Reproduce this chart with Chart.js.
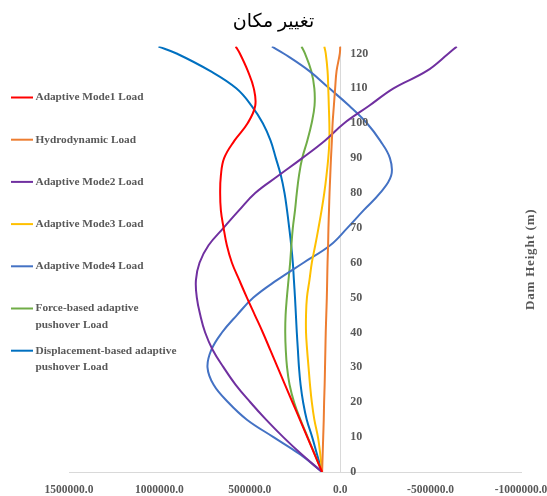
<!DOCTYPE html>
<html>
<head>
<meta charset="utf-8">
<script src="https://cdn.jsdelivr.net/npm/chart.js@4/dist/chart.umd.min.js"></script>
<style>
  html, body { margin: 0; padding: 0; background: #ffffff; }
  #wrap { width: 547px; height: 496px; }
</style>
</head>
<body>
<div id="wrap"><canvas id="c" width="547" height="496"></canvas></div>
<script>
// Dam height (m) at which each load profile is sampled
const heights = [0, 5, 10, 15, 20, 25, 30, 35, 40, 45, 50, 55, 60, 65, 70, 75, 80, 85, 90, 95, 100, 105, 110, 115, 120, 122];

// Load values (same order as heights)
const mode1Load = [100000, 141000, 182000, 223000, 264000, 305000, 346000, 387000, 428000, 472000, 516000, 558000, 599000, 627000, 645000, 660000, 664000, 660000, 642000, 585000, 512000, 470000, 478000, 511000, 555000, 578000];
const hydrodynamicLoad = [100000, 97000, 94000, 91000, 89000, 86000, 84000, 82000, 80000, 77000, 74000, 72000, 70000, 67000, 65000, 62000, 59000, 55000, 51000, 46000, 42000, 35000, 28000, 20000, 2000, 0];
const mode2Load = [100000, 212000, 315000, 410000, 497000, 578000, 645000, 705000, 747000, 774000, 793000, 798000, 778000, 728000, 645000, 560000, 470000, 341000, 210000, 85000, -22000, -160000, -295000, -479000, -599000, -645000];
const mode3Load = [100000, 110000, 123000, 143000, 157000, 167000, 175000, 183000, 189000, 189000, 184000, 170000, 157000, 138000, 120000, 103000, 88000, 76000, 66000, 60000, 60000, 63000, 66000, 70000, 80000, 88000];
const mode4Load = [100000, 221000, 369000, 516000, 620000, 700000, 734000, 713000, 654000, 571000, 480000, 350000, 203000, 55000, -40000, -129000, -221000, -282000, -275000, -221000, -148000, -50000, 60000, 172000, 313000, 378000];
const forceBasedLoad = [100000, 140000, 180000, 220000, 255000, 280000, 294000, 301000, 304000, 302000, 295000, 286000, 277000, 270000, 262000, 250000, 240000, 228000, 210000, 182000, 158000, 142000, 143000, 160000, 195000, 214000];
const displacementBasedLoad = [100000, 128000, 155000, 185000, 205000, 219000, 228000, 234000, 240000, 245000, 250000, 256000, 262000, 271000, 282000, 294000, 308000, 328000, 356000, 385000, 428000, 490000, 575000, 720000, 905000, 1005000];

// Axis tick values
const xTickValues = [1500000, 1000000, 500000, 0, -500000, -1000000];
const yTickValues = [0, 10, 20, 30, 40, 50, 60, 70, 80, 90, 100, 110, 120];

const chartTitle = 'تغيير مكان';
const yAxisTitle = 'Dam Height (m)';

const seriesDefs = [
  { label: 'Adaptive Mode1 Load', values: mode1Load, color: '#FF0000' },
  { label: 'Hydrodynamic Load', values: hydrodynamicLoad, color: '#ED7D31' },
  { label: 'Adaptive Mode2 Load', values: mode2Load, color: '#7030A0' },
  { label: 'Adaptive Mode3 Load', values: mode3Load, color: '#FFC000' },
  { label: 'Adaptive Mode4 Load', values: mode4Load, color: '#4472C4' },
  { label: 'Force-based adaptive\npushover Load', values: forceBasedLoad, color: '#70AD47' },
  { label: 'Displacement-based adaptive\npushover Load', values: displacementBasedLoad, color: '#0070C0' }
];

const FONT = "'Liberation Serif', 'Times New Roman', serif";
const GREY_TEXT = '#595959';
const AXIS_LINE = '#D9D9D9';

const datasets = seriesDefs.map(s => ({
  label: s.label,
  data: heights.map((h, i) => ({ x: s.values[i], y: h })),
  borderColor: s.color,
  backgroundColor: s.color,
  borderWidth: 2,
  pointRadius: 0,
  tension: 0.4,
  fill: false
}));

// Y tick labels beside the vertical axis, the rotated axis title and the legend
const sidePlugin = {
  id: 'sideText',
  afterDraw(chart) {
    const ctx = chart.ctx;
    const xs = chart.scales.x, ys = chart.scales.y;
    const axisX = xs.getPixelForValue(0);
    ctx.save();
    ctx.fillStyle = GREY_TEXT;
    ctx.font = "bold 12px " + FONT;
    ctx.textAlign = 'left';
    ctx.textBaseline = 'middle';
    yTickValues.forEach(v => {
      ctx.fillText(String(v), axisX + 10, ys.getPixelForValue(v));
    });
    // axis title
    const midY = (chart.chartArea.top + chart.chartArea.bottom) / 2;
    ctx.translate(531, midY);
    ctx.rotate(-Math.PI / 2);
    ctx.font = "bold 13px " + FONT;
    ctx.letterSpacing = '0.8px';
    ctx.textAlign = 'center';
    ctx.fillText(yAxisTitle, 0, 0);
    ctx.restore();

    // legend
    ctx.save();
    ctx.font = "bold 11.3px " + FONT;
    ctx.textAlign = 'left';
    ctx.textBaseline = 'middle';
    const top = 97.5, gap = 42.2, lineH = 16.5;
    chart.data.datasets.forEach((ds, i) => {
      const y = top + i * gap;
      ctx.strokeStyle = ds.borderColor;
      ctx.lineWidth = 2;
      ctx.beginPath();
      ctx.moveTo(11, y);
      ctx.lineTo(33, y);
      ctx.stroke();
      ctx.fillStyle = GREY_TEXT;
      ds.label.split('\n').forEach((t, k) => ctx.fillText(t, 35.5, y + k * lineH));
    });
    ctx.restore();
  }
};

new Chart(document.getElementById('c'), {
  type: 'line',
  data: { datasets },
  plugins: [sidePlugin],
  options: {
    responsive: false,
    animation: false,
    devicePixelRatio: 1,
    layout: { padding: 0 },
    plugins: {
      legend: { display: false },
      tooltip: { enabled: false },
      title: {
        display: true,
        text: chartTitle,
        color: '#000000',
        font: { family: "'Liberation Serif', 'DejaVu Serif', 'DejaVu Sans', serif", size: 19, weight: 'normal' },
        padding: { top: 11, bottom: 12.7 }
      }
    },
    scales: {
      x: {
        type: 'linear',
        reverse: true,
        min: -1000000,
        max: 1500000,
        afterBuildTicks(scale) { scale.ticks = xTickValues.map(v => ({ value: v })); },
        afterFit(scale) {
          scale.height = 24;
          scale.paddingLeft = 69;
          scale.paddingRight = 26;
        },
        grid: { display: false, drawTicks: false },
        border: { display: true, color: AXIS_LINE, width: 1 },
        ticks: {
          padding: 11,
          color: GREY_TEXT,
          font: { family: FONT, size: 11.5, weight: 'bold' },
          maxRotation: 0,
          callback: v => Number(v).toFixed(1)
        }
      },
      y: {
        type: 'linear',
        position: { x: 0 },
        min: 0,
        max: 122,
        afterBuildTicks(scale) { scale.ticks = yTickValues.map(v => ({ value: v })); },
        grid: { display: false, drawTicks: false },
        border: { display: true, color: AXIS_LINE, width: 1 },
        ticks: { display: false }
      }
    }
  }
});
</script>
</body>
</html>
